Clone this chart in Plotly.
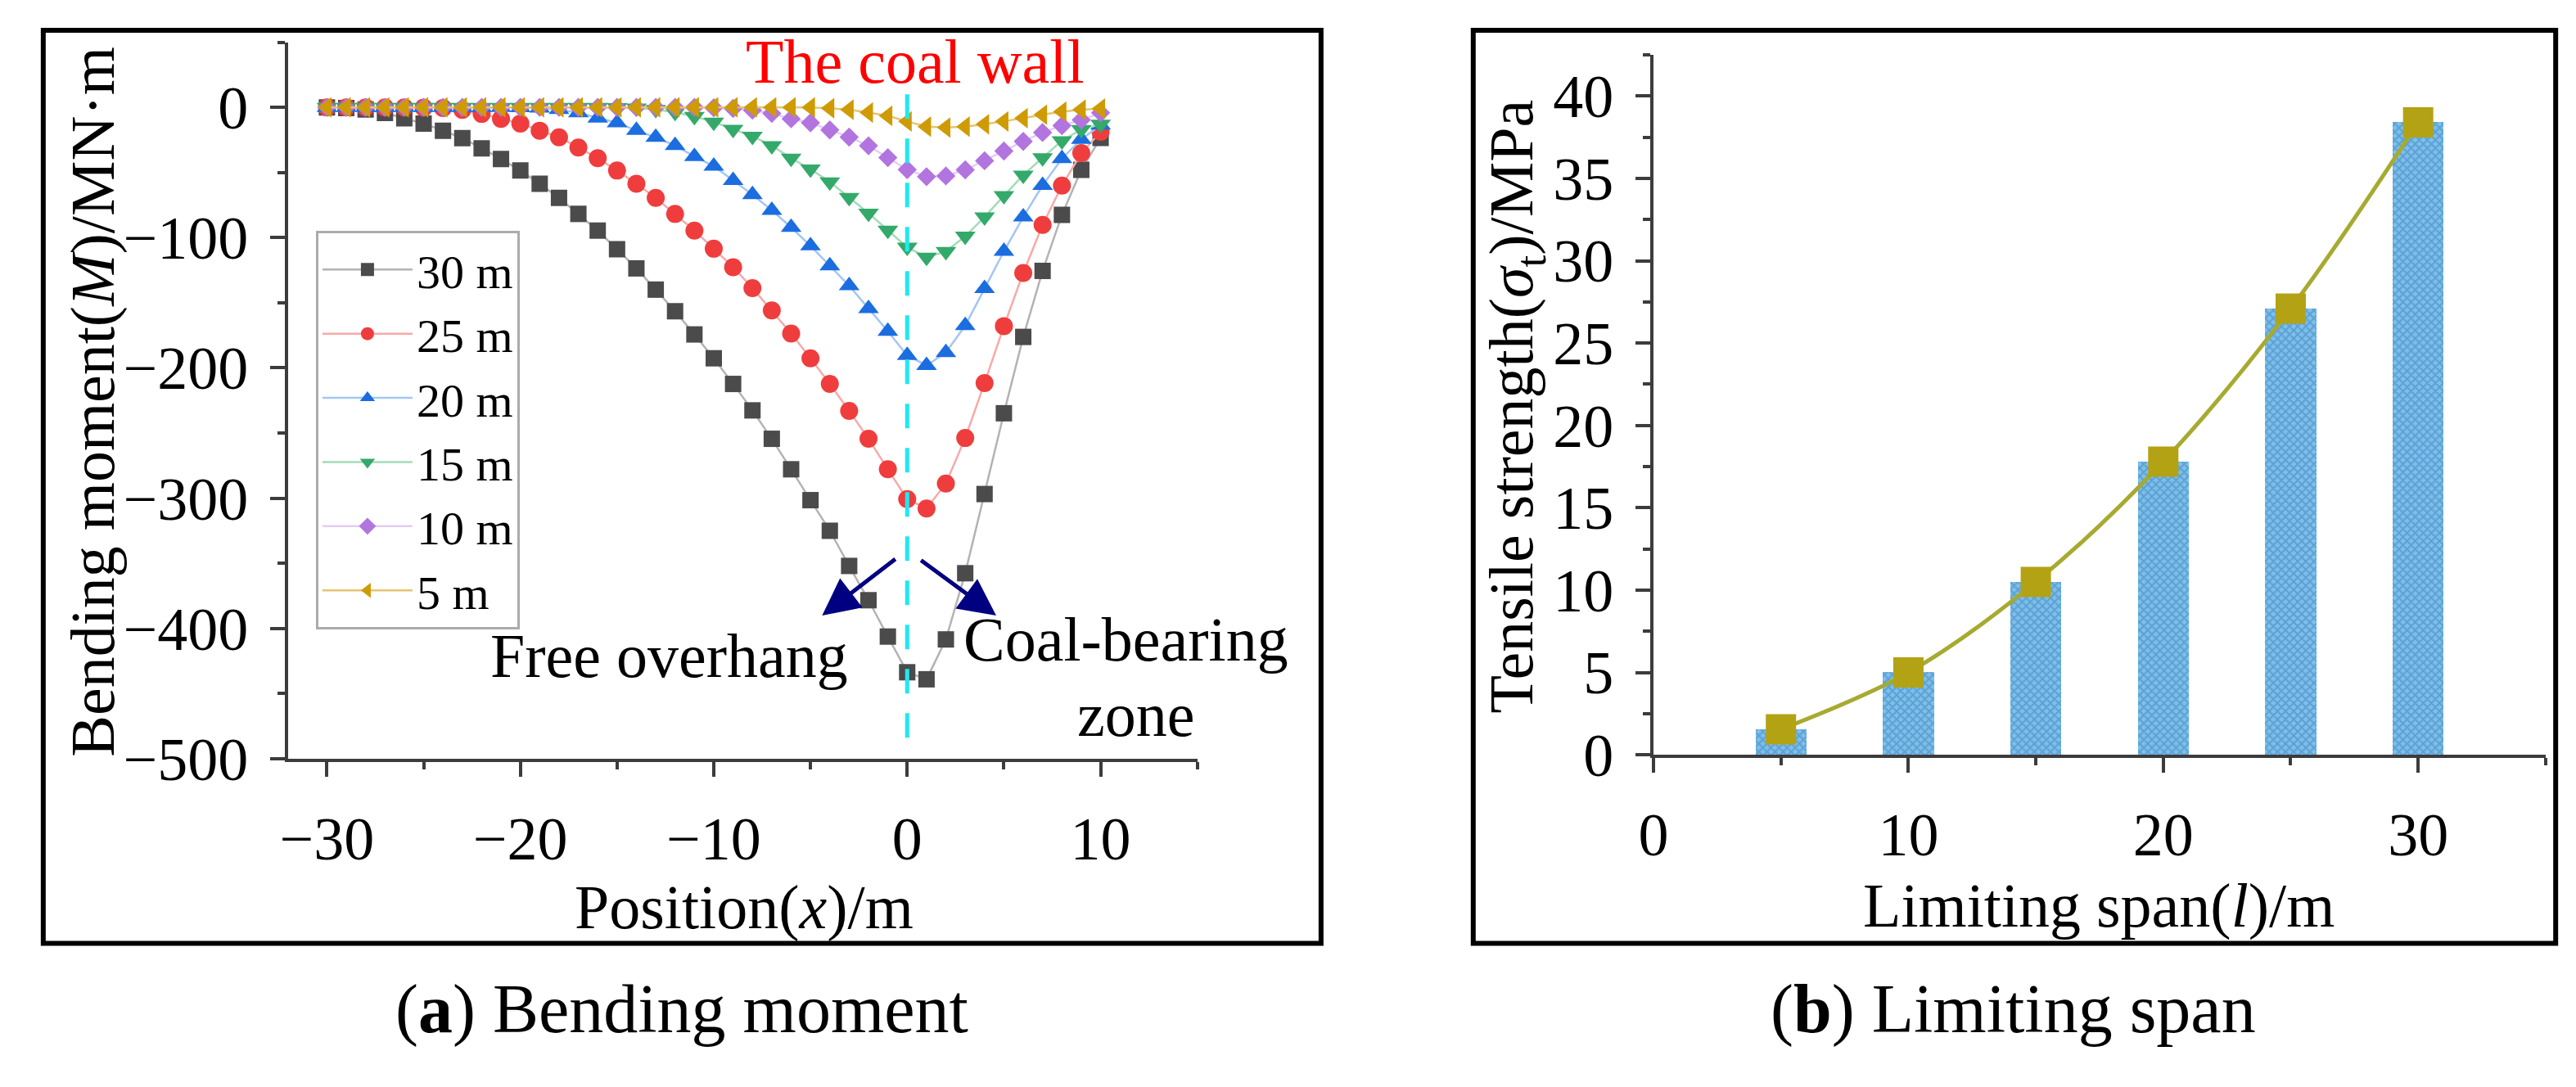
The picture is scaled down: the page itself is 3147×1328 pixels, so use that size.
import plotly.graph_objects as go

W, H = 3147, 1328
FONT = "Liberation Serif"

# ---------------- data: panel (a) ----------------
position = list(range(-30, 11))

m30 = [0, -0.5, -1.6, -4.3, -8.4, -12.4, -17.9, -23.6, -31.4, -39.6,
       -48.5, -58.7, -69.5, -81.8, -94.6, -108.9, -123.6, -139.9, -156.5, -174.3,
       -192.6, -212.3, -232.6, -254.4, -277.8, -301.5, -325.0, -352.0, -378.3, -406.2,
       -433.6, -439.0, -408.4, -357.6, -296.8, -234.8, -176.2, -125.5, -82.5, -48.0,
       -23.5]
m25 = [0, 0, 0, 0, 0, -0.2, -0.5, -2.0, -5.0, -8.8,
       -12.4, -17.9, -23.0, -30.8, -39.0, -48.5, -58.7, -69.5, -81.8, -94.6,
       -108.5, -122.7, -138.7, -155.9, -173.6, -192.6, -212.3, -233.0, -254.4, -277.8,
       -300.7, -307.9, -288.7, -253.8, -211.6, -167.9, -127.1, -90.2, -60.1, -35.1,
       -18.8]
m20 = [0, 0, 0, 0, 0, 0, 0, 0, 0, 0,
       -0.2, -0.5, -1.6, -4.2, -8.2, -11.8, -17.7, -23.0, -29.3, -37.7,
       -45.2, -56.1, -67.0, -79.0, -92.1, -106.3, -121.6, -136.9, -154.4, -171.9,
       -190.4, -198.1, -188.2, -167.5, -139.1, -110.5, -84.1, -59.9, -39.3, -24.5,
       -13.5]
m15 = [0, 0, 0, 0, 0, 0, 0, 0, 0, 0,
       0, 0, 0, 0, 0, -0.2, -0.5, -1.6, -3.8, -7.0,
       -11.3, -16.8, -22.2, -29.4, -39.0, -47.4, -57.2, -69.2, -81.2, -94.3,
       -107.4, -115.0, -110.7, -98.9, -84.1, -67.8, -52.0, -38.7, -25.6, -17.0,
       -13.0]
m10 = [0, 0, 0, 0, 0, 0, 0, 0, 0, 0,
       0, 0, 0, 0, 0, 0, 0, 0, 0, 0,
       -0.3, -0.8, -2.2, -4.6, -8.8, -11.8, -17.3, -22.8, -29.5, -38.6,
       -47.8, -53.2, -52.6, -48.0, -41.0, -33.5, -26.1, -19.3, -14.0, -9.7,
       -4.2]
m5 = [0, 0, 0, 0, 0, 0, 0, 0, 0, 0,
      0, 0, 0, 0, 0, 0, 0, 0, 0, 0,
      0, 0, 0, 0, 0, 0, -0.7, -1.8, -4.0, -6.5,
      -10.8, -14.8, -15.5, -14.8, -13.0, -10.8, -8.3, -5.6, -3.3, -1.8,
      -1.0]

series_names = ["30 m", "25 m", "20 m", "15 m", "10 m", "5 m"]
series_values = [m30, m25, m20, m15, m10, m5]

# ---------------- data: panel (b) ----------------
spans = [5, 10, 15, 20, 25, 30]
tensile = [1.55, 5.0, 10.5, 17.8, 27.1, 38.4]

# ---------------- styles ----------------
symbols = ["square", "circle", "triangle-up", "triangle-down", "diamond", "triangle-left"]
marker_colors = ["#4b4b4b", "#ef3d3d", "#1b6de0", "#33a96a", "#b274df", "#cf9b05"]
line_colors = ["#b3b3b3", "#f7a9a9", "#a3c6f3", "#a4dbb9", "#e4cdf5", "#e6c472"]
marker_sizes = [20, 22, 22, 22, 18, 22]

fig = go.Figure()

for name, vals, sym, mc, lc, sz in zip(series_names, series_values, symbols,
                                       marker_colors, line_colors, marker_sizes):
    fig.add_trace(go.Scatter(
        x=position, y=vals, name=name, mode="lines+markers",
        line=dict(color=lc, width=2.5),
        marker=dict(symbol=sym, color=mc, size=sz, line=dict(width=0)),
        xaxis="x", yaxis="y"))

fig.add_trace(go.Bar(
    x=spans, y=tensile, width=2, showlegend=False,
    marker=dict(color="#6fb2e2",
                pattern=dict(shape="x", fgcolor="#3f80b8", bgcolor="#7cc0ec",
                             size=7, solidity=0.5),
                line=dict(width=0)),
    xaxis="x2", yaxis="y2"))

fig.add_trace(go.Scatter(
    x=spans, y=tensile, mode="lines+markers", showlegend=False,
    line=dict(color="#a7aa30", width=5, shape="spline"),
    marker=dict(symbol="square", size=37, color="#b3a214", line=dict(width=0)),
    xaxis="x2", yaxis="y2"))

AX = "#3c3c3c"
tickfont = dict(family=FONT, size=74, color="black")


def axis(domain, rng, **kw):
    d = dict(domain=domain, range=rng, showline=True, linecolor=AX, linewidth=4,
             ticks="outside", ticklen=18, tickwidth=4, tickcolor=AX,
             showgrid=False, zeroline=False, tickfont=tickfont,
             ticklabelstandoff=12)
    d.update(kw)
    return d


fig.update_layout(
    width=W, height=H, margin=dict(l=0, r=0, t=0, b=0),
    paper_bgcolor="white", plot_bgcolor="white",
    font=dict(family=FONT, color="black"),
    bargap=0,
    xaxis=axis([328 / W, 1445 / W], [-32, 15], anchor="y",
               tickvals=[-30, -20, -10, 0, 10],
               minor=dict(dtick=5, tick0=0, ticklen=9, tickwidth=4,
                          tickcolor=AX, ticks="outside")),
    yaxis=axis([1 - 949 / H, 1 - 45 / H], [-500, 50], anchor="x",
               tickvals=[0, -100, -200, -300, -400, -500],
               minor=dict(dtick=50, tick0=0, ticklen=9, tickwidth=4,
                          tickcolor=AX, ticks="outside")),
    xaxis2=axis([2005.5 / W, 3101.6 / W], [0, 35], anchor="y2",
                tickvals=[0, 10, 20, 30],
                minor=dict(dtick=5, tick0=0, ticklen=9, tickwidth=4,
                           tickcolor=AX, ticks="outside")),
    yaxis2=axis([1 - 944 / H, 1 - 61 / H], [0, 42.5], anchor="x2",
                tickvals=[0, 5, 10, 15, 20, 25, 30, 35, 40],
                minor=dict(dtick=2.5, tick0=0, ticklen=9, tickwidth=4,
                           tickcolor=AX, ticks="outside")),
    legend=dict(x=362 / W, y=1 - 283 / H, xanchor="left", yanchor="top",
                bgcolor="white", bordercolor="#ababab", borderwidth=3,
                font=dict(family=FONT, size=58, color="black"),
                itemwidth=110, tracegroupgap=0),
)

# frames around the two panels
for x0, x1 in [(27, 1597), (1784, 3114)]:
    fig.add_shape(type="rect", xref="paper", yref="paper",
                  x0=x0 / W, x1=x1 / W, y0=1 - 1182 / H, y1=1 - 30 / H,
                  line=dict(color="black", width=6), fillcolor="rgba(0,0,0,0)")

# coal wall dashed line
wall_x = 0
fig.add_shape(type="line", xref="x", yref="y", x0=wall_x, x1=wall_x, y0=10, y1=-486,
              line=dict(color="#1fe9f2", width=5, dash="30px,24px"))


def label(text, x, y, size=76, color="black", ref="paper", angle=0):
    return dict(text=text, xref="paper" if ref == "paper" else "x",
                yref="paper" if ref == "paper" else "y",
                x=x, y=y, textangle=angle, showarrow=False,
                xanchor="center", yanchor="middle",
                font=dict(family=FONT, size=size, color=color))


ann = []
# axis titles
ann.append(label("Bending moment(<i>M</i>)/MN·m", 88 / W, 1 - 498 / H, angle=-90))
ann.append(label("Position(<i>x</i>)/m", 888 / W, 1 - 1136 / H))
ann.append(label("Tensile strength(<i>σ</i><sub>t</sub>)/MPa", 1837 / W, 1 - 504 / H, angle=-90))
ann.append(label("Limiting span(<i>l</i>)/m", 2553 / W, 1 - 1134 / H))
# captions
ann.append(label("(<b>a</b>) Bending moment", 812 / W, 1 - 1265 / H, size=84))
ann.append(label("(<b>b</b>) Limiting span", 2448 / W, 1 - 1265 / H, size=84))
# in-plot labels
ann.append(label("The coal wall", 0.4, 35, color="#ff0000", ref="data"))
ann.append(label("Free overhang", -12.3, -421, ref="data"))
ann.append(label("Coal-bearing", 11.3, -408, ref="data"))
ann.append(label("zone", 11.8, -466, ref="data"))
# arrows
for hx, hy, tx, ty in [(-4.4, -390, -0.55, -346), (4.6, -390, 0.65, -347)]:
    ann.append(dict(text="", xref="x", yref="y", x=hx, y=hy, axref="x", ayref="y",
                    ax=tx, ay=ty, showarrow=True, arrowhead=2, arrowsize=1.8,
                    arrowwidth=5, arrowcolor="#000080", standoff=0))

fig.update_layout(annotations=ann)

fig.write_html("out.html")
